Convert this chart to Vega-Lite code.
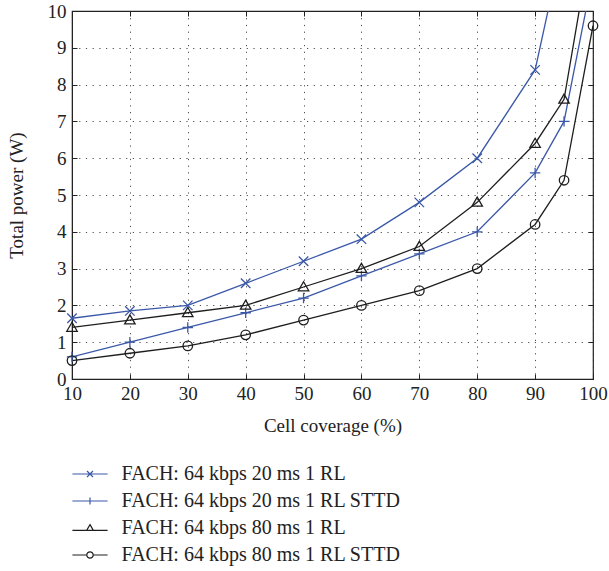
{
  "$schema": "https://vega.github.io/schema/vega-lite/v6.json",
  "width": 521,
  "height": 368,
  "autosize": "none",
  "padding": {"left": 72, "top": 11, "right": 16, "bottom": 192},
  "background": "white",
  "config": {
    "font": "Liberation Serif",
    "view": {"stroke": "#222", "strokeWidth": 1.2},
    "axis": {
      "labelFont": "Liberation Serif",
      "titleFont": "Liberation Serif",
      "labelFontSize": 19,
      "titleFontSize": 19,
      "titleFontWeight": "normal",
      "labelColor": "#222",
      "titleColor": "#222",
      "domainColor": "#222",
      "tickColor": "#222",
      "gridColor": "#222",
      "gridDash": [1.2, 5.5],
      "gridOpacity": 0.8,
      "labelFlush": false,
      "labelOverlap": false
    },
    "legend": {"labelFont": "Liberation Serif", "labelFontSize": 20, "labelColor": "#222", "labelLimit": 0},
    "point": {"filled": false, "size": 90, "strokeWidth": 1.3, "opacity": 1, "clip": true}
  },
  "data": {
    "values": [
      {"series": "FACH: 64 kbps 20 ms 1 RL", "x": 10, "y": 1.65},
      {"series": "FACH: 64 kbps 20 ms 1 RL", "x": 20, "y": 1.85},
      {"series": "FACH: 64 kbps 20 ms 1 RL", "x": 30, "y": 2.0},
      {"series": "FACH: 64 kbps 20 ms 1 RL", "x": 40, "y": 2.6},
      {"series": "FACH: 64 kbps 20 ms 1 RL", "x": 50, "y": 3.2},
      {"series": "FACH: 64 kbps 20 ms 1 RL", "x": 60, "y": 3.8},
      {"series": "FACH: 64 kbps 20 ms 1 RL", "x": 70, "y": 4.8},
      {"series": "FACH: 64 kbps 20 ms 1 RL", "x": 80, "y": 6.0},
      {"series": "FACH: 64 kbps 20 ms 1 RL", "x": 90, "y": 8.4},
      {"series": "FACH: 64 kbps 20 ms 1 RL", "x": 95, "y": 12.0},
      {"series": "FACH: 64 kbps 20 ms 1 RL STTD", "x": 10, "y": 0.6},
      {"series": "FACH: 64 kbps 20 ms 1 RL STTD", "x": 20, "y": 1.0},
      {"series": "FACH: 64 kbps 20 ms 1 RL STTD", "x": 30, "y": 1.4},
      {"series": "FACH: 64 kbps 20 ms 1 RL STTD", "x": 40, "y": 1.8},
      {"series": "FACH: 64 kbps 20 ms 1 RL STTD", "x": 50, "y": 2.2},
      {"series": "FACH: 64 kbps 20 ms 1 RL STTD", "x": 60, "y": 2.8},
      {"series": "FACH: 64 kbps 20 ms 1 RL STTD", "x": 70, "y": 3.4},
      {"series": "FACH: 64 kbps 20 ms 1 RL STTD", "x": 80, "y": 4.0},
      {"series": "FACH: 64 kbps 20 ms 1 RL STTD", "x": 90, "y": 5.6},
      {"series": "FACH: 64 kbps 20 ms 1 RL STTD", "x": 95, "y": 7.0},
      {"series": "FACH: 64 kbps 20 ms 1 RL STTD", "x": 100, "y": 11.0},
      {"series": "FACH: 64 kbps 80 ms 1 RL", "x": 10, "y": 1.4},
      {"series": "FACH: 64 kbps 80 ms 1 RL", "x": 20, "y": 1.6},
      {"series": "FACH: 64 kbps 80 ms 1 RL", "x": 30, "y": 1.8},
      {"series": "FACH: 64 kbps 80 ms 1 RL", "x": 40, "y": 2.0},
      {"series": "FACH: 64 kbps 80 ms 1 RL", "x": 50, "y": 2.5},
      {"series": "FACH: 64 kbps 80 ms 1 RL", "x": 60, "y": 3.0},
      {"series": "FACH: 64 kbps 80 ms 1 RL", "x": 70, "y": 3.6},
      {"series": "FACH: 64 kbps 80 ms 1 RL", "x": 80, "y": 4.8},
      {"series": "FACH: 64 kbps 80 ms 1 RL", "x": 90, "y": 6.4},
      {"series": "FACH: 64 kbps 80 ms 1 RL", "x": 95, "y": 7.6},
      {"series": "FACH: 64 kbps 80 ms 1 RL", "x": 100, "y": 12.2},
      {"series": "FACH: 64 kbps 80 ms 1 RL STTD", "x": 10, "y": 0.5},
      {"series": "FACH: 64 kbps 80 ms 1 RL STTD", "x": 20, "y": 0.7},
      {"series": "FACH: 64 kbps 80 ms 1 RL STTD", "x": 30, "y": 0.9},
      {"series": "FACH: 64 kbps 80 ms 1 RL STTD", "x": 40, "y": 1.2},
      {"series": "FACH: 64 kbps 80 ms 1 RL STTD", "x": 50, "y": 1.6},
      {"series": "FACH: 64 kbps 80 ms 1 RL STTD", "x": 60, "y": 2.0},
      {"series": "FACH: 64 kbps 80 ms 1 RL STTD", "x": 70, "y": 2.4},
      {"series": "FACH: 64 kbps 80 ms 1 RL STTD", "x": 80, "y": 3.0},
      {"series": "FACH: 64 kbps 80 ms 1 RL STTD", "x": 90, "y": 4.2},
      {"series": "FACH: 64 kbps 80 ms 1 RL STTD", "x": 95, "y": 5.4},
      {"series": "FACH: 64 kbps 80 ms 1 RL STTD", "x": 100, "y": 9.6}
    ]
  },
  "layer": [
    {
      "mark": {"type": "line", "clip": true, "strokeWidth": 1.3},
      "encoding": {
        "x": {"field": "x", "type": "quantitative", "scale": {"domain": [10, 100], "nice": false, "zero": false},
              "axis": {"orient": "bottom", "title": "Cell coverage (%)", "values": [10,20,30,40,50,60,70,80,90,100], "tickSize": -5, "labelPadding": 10, "titlePadding": 13, "grid": true}},
        "y": {"field": "y", "type": "quantitative", "scale": {"domain": [0, 10], "nice": false},
              "axis": {"orient": "left", "title": "Total power (W)", "values": [0,1,2,3,4,5,6,7,8,9,10], "tickSize": -5, "labelPadding": 11, "titlePadding": 21, "grid": true}},
        "color": {"field": "series", "type": "nominal",
                  "scale": {"domain": ["FACH: 64 kbps 20 ms 1 RL", "FACH: 64 kbps 20 ms 1 RL STTD", "FACH: 64 kbps 80 ms 1 RL", "FACH: 64 kbps 80 ms 1 RL STTD"],
                            "range": ["#3b58a8", "#3b58a8", "#1e1e1e", "#1e1e1e"]},
                  "legend": {
                    "title": null,
                    "orient": "none",
                    "legendX": 8,
                    "legendY": 453,
                    "symbolSize": 64,
                    "symbolStrokeWidth": 1.2,
                    "labelOffset": 21.5,
                    "rowPadding": 7,
                    "labelLimit": 0,
                    "encode": {
                      "symbols": {
                        "update": {
                          "fill": {"value": "transparent"},
                          "shape": {"signal": "datum.value === 'FACH: 64 kbps 20 ms 1 RL' ? 'M-4.4,0L4.4,0M-0.75,-0.75L0.75,0.75M-0.75,0.75L0.75,-0.75' : datum.value === 'FACH: 64 kbps 20 ms 1 RL STTD' ? 'M-4.4,0L4.4,0M0,-0.85L0,0.85' : datum.value === 'FACH: 64 kbps 80 ms 1 RL' ? 'M-4.4,0.6L4.4,0.6M0,-0.85L0.85,0.6L-0.85,0.6Z' : 'M-4.4,0L-0.8,0M0.8,0L4.4,0M0.8,0A0.8,0.8 0 1,1 -0.8,0A0.8,0.8 0 1,1 0.8,0Z'"}
                        }
                      }
                    }
                  }},
        "detail": {"field": "series"}
      }
    },
    {
      "transform": [{"filter": "datum.series === 'FACH: 64 kbps 20 ms 1 RL'"}],
      "mark": {"type": "point", "shape": "M-1,-1L1,1M-1,1L1,-1"},
      "encoding": {
        "x": {"field": "x", "type": "quantitative", "axis": {"orient": "top", "labels": false, "title": null, "grid": false, "domain": false, "tickSize": -5, "values": [10,20,30,40,50,60,70,80,90,100]}},
        "y": {"field": "y", "type": "quantitative", "axis": {"orient": "right", "labels": false, "title": null, "grid": false, "domain": false, "tickSize": -5, "values": [0,1,2,3,4,5,6,7,8,9,10]}},
        "color": {"field": "series", "type": "nominal"}
      }
    },
    {
      "transform": [{"filter": "datum.series === 'FACH: 64 kbps 20 ms 1 RL STTD'"}],
      "mark": {"type": "point", "shape": "M-1.1,0L1.1,0M0,-1.1L0,1.1"},
      "encoding": {
        "x": {"field": "x", "type": "quantitative", "axis": null},
        "y": {"field": "y", "type": "quantitative", "axis": null},
        "color": {"field": "series", "type": "nominal"}
      }
    },
    {
      "transform": [{"filter": "datum.series === 'FACH: 64 kbps 80 ms 1 RL'"}],
      "mark": {"type": "point", "shape": "M0,-1.1L1.1,0.8L-1.1,0.8Z"},
      "encoding": {
        "x": {"field": "x", "type": "quantitative", "axis": null},
        "y": {"field": "y", "type": "quantitative", "axis": null},
        "color": {"field": "series", "type": "nominal"}
      }
    },
    {
      "transform": [{"filter": "datum.series === 'FACH: 64 kbps 80 ms 1 RL STTD'"}],
      "mark": {"type": "point", "shape": "M1,0A1,1 0 1,1 -1,0A1,1 0 1,1 1,0Z"},
      "encoding": {
        "x": {"field": "x", "type": "quantitative", "axis": null},
        "y": {"field": "y", "type": "quantitative", "axis": null},
        "color": {"field": "series", "type": "nominal"}
      }
    }
  ],
  "resolve": {"axis": {"x": "independent", "y": "independent"}}
}
